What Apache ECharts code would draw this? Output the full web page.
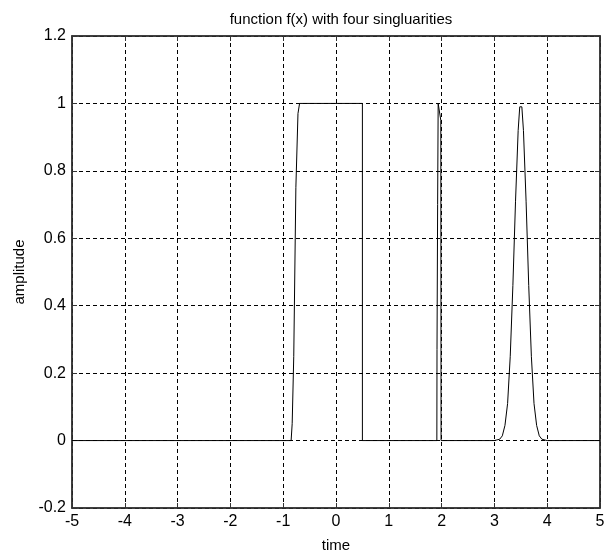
<!DOCTYPE html>
<html>
<head>
<meta charset="utf-8">
<script src="https://cdn.jsdelivr.net/npm/echarts@6/dist/echarts.min.js"></script>
<style>
  html, body { margin: 0; padding: 0; background: #fff; }
  #chart { width: 608px; height: 558px; }
</style>
</head>
<body>
<div id="chart"></div>
<script>
// axis ticks
var xTicks = [-5, -4, -3, -2, -1, 0, 1, 2, 3, 4, 5];
var yTicks = [-0.2, 0, 0.2, 0.4, 0.6, 0.8, 1, 1.2];

// rectangular pulse
var pulseX = [-5, -0.85, -0.83, -0.8, -0.76, -0.72, -0.69, 0.5, 0.5];
var pulseY = [0, 0, 0.05, 0.25, 0.75, 0.97, 1, 1, 0];

// narrow spike near t = 2
var spikeX = [1.91, 1.913, 1.925, 1.935, 1.985, 1.99];
var spikeY = [0, 0.27, 0.7, 1, 0.95, 0];

// bell shaped bump around t = 3.5
var bumpX = [3.0, 3.1, 3.15, 3.2, 3.25, 3.3, 3.35, 3.4, 3.45, 3.48, 3.52, 3.55, 3.6, 3.65, 3.7, 3.75, 3.8, 3.85, 3.9, 4.0, 5];
var bumpY = [0, 0.004, 0.014, 0.045, 0.11, 0.25, 0.46, 0.71, 0.92, 0.99, 0.99, 0.92, 0.71, 0.46, 0.25, 0.11, 0.045, 0.014, 0.004, 0, 0];

var font = "'Liberation Sans Narrow', 'Liberation Sans', Arial, sans-serif";

var points = [];
[[pulseX, pulseY], [spikeX, spikeY], [bumpX, bumpY]].forEach(function (seg) {
  for (var i = 0; i < seg[0].length; i++) {
    points.push([seg[0][i], seg[1][i]]);
  }
});

var myChart = echarts.init(document.getElementById("chart"));

var labelStyle = { color: "#000", fontSize: 16, fontFamily: font };
var dashed = { color: "#000", width: 1, type: [4, 3] };
var boxLine = { show: true, onZero: false, lineStyle: { color: "#333", width: 1.5 } };
var inTick = { show: true, inside: true, length: 5, lineStyle: { color: "#333" } };

var option = {
  animation: false,
  backgroundColor: "#fff",
  title: {
    text: "function f(x) with four singluarities",
    left: 336,
    textAlign: "center",
    top: 7,
    textStyle: { color: "#000", fontSize: 15, fontWeight: "normal", fontFamily: font }
  },
  grid: {
    left: 72,
    right: 8,
    top: 36,
    bottom: 47,
    show: true,
    borderColor: "#333",
    borderWidth: 1.5,
    backgroundColor: "#fff"
  },
  xAxis: [
    {
      type: "value",
      min: xTicks[0],
      max: xTicks[xTicks.length - 1],
      interval: 1,
      name: "time",
      nameLocation: "middle",
      nameGap: 30,
      nameTextStyle: { color: "#000", fontSize: 15, fontFamily: font },
      axisLine: boxLine,
      axisTick: inTick,
      axisLabel: Object.assign({ margin: 6 }, labelStyle),
      splitLine: { show: true, lineStyle: dashed }
    },
    {
      type: "value",
      position: "top",
      min: xTicks[0],
      max: xTicks[xTicks.length - 1],
      interval: 1,
      axisLine: boxLine,
      axisTick: inTick,
      axisLabel: { show: false },
      splitLine: { show: false }
    }
  ],
  yAxis: [
    {
      type: "value",
      min: yTicks[0],
      max: yTicks[yTicks.length - 1],
      interval: 0.2,
      name: "amplitude",
      nameLocation: "middle",
      nameGap: 44,
      nameTextStyle: { color: "#000", fontSize: 15, fontFamily: font },
      axisLine: boxLine,
      axisTick: inTick,
      axisLabel: Object.assign({ margin: 6 }, labelStyle),
      splitLine: { show: true, lineStyle: dashed }
    },
    {
      type: "value",
      position: "right",
      min: yTicks[0],
      max: yTicks[yTicks.length - 1],
      interval: 0.2,
      axisLine: boxLine,
      axisTick: inTick,
      axisLabel: { show: false },
      splitLine: { show: false }
    }
  ],
  series: [
    {
      type: "line",
      data: points,
      showSymbol: false,
      symbol: "none",
      lineStyle: { color: "#000", width: 1 },
      z: 5
    }
  ]
};

myChart.setOption(option);
</script>
</body>
</html>
